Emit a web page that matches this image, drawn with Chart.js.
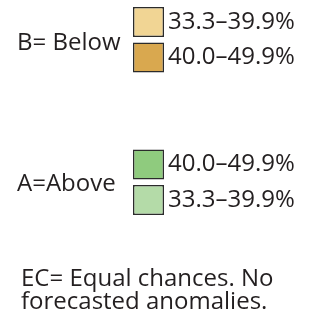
<!DOCTYPE html>
<html>
<head>
<meta charset="utf-8">
<script src="https://cdn.jsdelivr.net/npm/chart.js@4/dist/chart.umd.min.js"></script>
<style>
  html, body { margin: 0; padding: 0; background: #fff; }
  #wrap { position: relative; width: 311px; height: 320px; overflow: hidden; font-family: "Open Sans", sans-serif; color: #231f20; }
  canvas { position: absolute; left: 0; top: 0; }
  .lbl { position: absolute; white-space: nowrap; font-size: 24px; line-height: 23px; }
  .note { position: absolute; left: 21px; top: 265px; font-size: 24px; line-height: 23px; white-space: nowrap; }
</style>
</head>
<body>
<div id="wrap">
  <canvas id="c" width="311" height="320"></canvas>
  <div class="lbl" id="g0" style="left:17px;top:29px;"></div>
  <div class="lbl" id="g1" style="left:17px;top:170px;"></div>
  <div class="note" id="note"></div>
</div>
<script>
// ---- data ----
const categories = ["33.3–39.9%", "40.0–49.9%", "", "", "40.0–49.9%", "33.3–39.9%"];
const boxSpans = [[0, 1], [0, 1], null, null, [0, 1], [0, 1]];
const groupLabels = ["B= Below", "A=Above"];
const noteLines = ["EC= Equal chances. No", "forecasted anomalies."];
// ---- styles ----
const boxColors = ["#f1d594", "#d9a84f", "#ffffff", "#ffffff", "#8fcb7e", "#b4dba8"];

document.getElementById("g0").textContent = groupLabels[0];
document.getElementById("g1").textContent = groupLabels[1];
document.getElementById("note").innerHTML = noteLines.join("<br>");

new Chart(document.getElementById("c"), {
  type: "bar",
  data: {
    labels: categories,
    datasets: [{
      data: boxSpans,
      backgroundColor: boxColors,
      borderColor: "#2b2b2b",
      borderWidth: 1.5,
      borderSkipped: false,
      barPercentage: 0.843,
      categoryPercentage: 1
    }]
  },
  options: {
    indexAxis: "y",
    responsive: false,
    animation: false,
    devicePixelRatio: 1,
    layout: { padding: { left: 133, right: 0, top: 4.2, bottom: 102.2 } },
    plugins: { legend: { display: false }, tooltip: { enabled: false } },
    scales: {
      x: { display: false, min: 0, max: 1 },
      y: {
        type: "category",
        position: "right",
        grid: { display: false, drawTicks: false },
        border: { display: false },
        ticks: {
          autoSkip: false,
          color: "#231f20",
          font: { family: "Open Sans", size: 24 },
          padding: 4,
          crossAlign: "near"
        },
        afterFit: (s) => { s.width = 147; s.paddingTop = 0; s.paddingBottom = 0; }
      }
    }
  }
});
</script>
</body>
</html>
